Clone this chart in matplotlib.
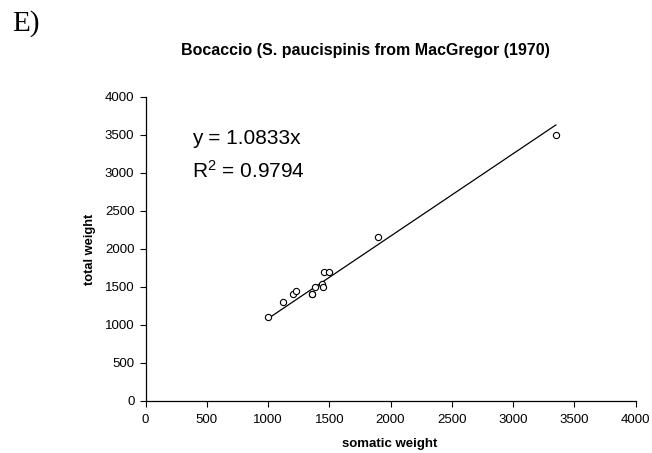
import matplotlib
matplotlib.use("Agg")
import matplotlib.pyplot as plt
import numpy as np

# Bocaccio weights (somatic vs total)
somatic_weight = [1000, 1125, 1200, 1230, 1355, 1360, 1380, 1440, 1450, 1460, 1500, 1900, 3350]
total_weight = [1100, 1300, 1400, 1440, 1400, 1400, 1500, 1540, 1500, 1700, 1700, 2160, 3500]
slope = 1.0833
r_squared = 0.9794
x_ticks = [0, 500, 1000, 1500, 2000, 2500, 3000, 3500, 4000]
y_ticks = [0, 500, 1000, 1500, 2000, 2500, 3000, 3500, 4000]

plt.rcParams["font.family"] = ["Liberation Sans", "DejaVu Sans"]
plt.rcParams["mathtext.fontset"] = "custom"
plt.rcParams["mathtext.rm"] = "Liberation Sans"
plt.rcParams["mathtext.it"] = "Liberation Sans"
plt.rcParams["mathtext.bf"] = "Liberation Sans:bold"

fig = plt.figure(figsize=(6.52, 4.53), dpi=100)
ax = fig.add_axes([0.2232, 0.1148, 0.7515, 0.6717])

ax.scatter(somatic_weight, total_weight, s=20, facecolors="white",
           edgecolors="black", linewidths=0.8, zorder=3)

# trend line through the origin, over the range of the data
xl = np.array([min(somatic_weight), max(somatic_weight)])
ax.plot(xl, slope * xl, color="black", linewidth=0.9, zorder=2)

ax.text(0.095, 0.864, f"y = {slope:.4f}x", transform=ax.transAxes,
        fontsize=15, ha="left", va="center")
ax.text(0.095, 0.757, f"R$^2$ = {r_squared:.4f}", transform=ax.transAxes,
        fontsize=15, ha="left", va="center")

ax.set_xlim(0, 4000)
ax.set_ylim(0, 4000)
ax.set_xticks(x_ticks)
ax.set_yticks(y_ticks)
ax.tick_params(direction="out", length=4, width=0.8, labelsize=9.5)
ax.xaxis.set_tick_params(pad=5.5)
ax.yaxis.set_tick_params(pad=4)
for side in ("top", "right"):
    ax.spines[side].set_visible(False)
for side in ("left", "bottom"):
    ax.spines[side].set_linewidth(0.9)

fig.text(390 / 652, 1 - 444 / 453, "somatic weight", fontsize=9.5,
         fontweight="bold", ha="center", va="center")
fig.text(90 / 652, 1 - 249 / 453, "total weight", fontsize=9.3,
         fontweight="bold", ha="center", va="center", rotation=90)

fig.text(365 / 652, 1 - 50 / 453, "Bocaccio (S. paucispinis from MacGregor (1970)",
         fontsize=11.5, fontweight="bold", ha="center", va="center")
fig.text(12 / 652, 1 - 24 / 453, "E)", fontsize=21,
         family=["Liberation Serif", "DejaVu Serif"], ha="left", va="center")

fig.savefig("out.png", dpi=100)
